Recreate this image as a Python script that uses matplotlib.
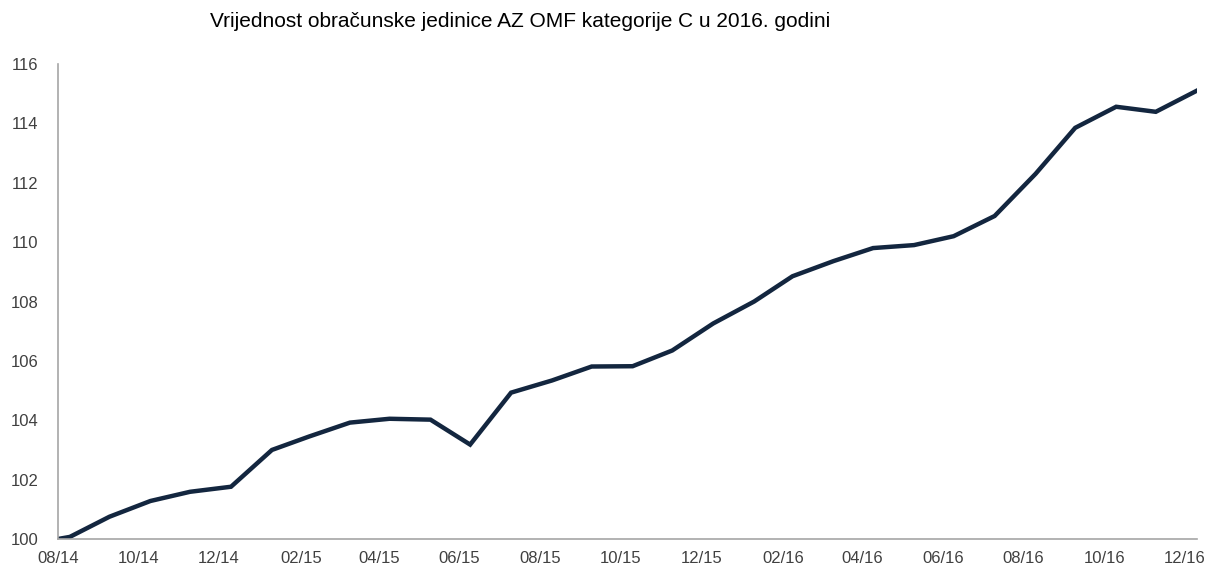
import pandas as pd
import numpy as np
import matplotlib.pyplot as plt
import matplotlib.dates as mdates

plt.rcParams['font.family'] = ['Liberation Sans', 'DejaVu Sans']

# datumi: početak + kraj svakog mjeseca
start_date = '2014-08-22'
month_ends = pd.date_range('2014-08-31', '2016-12-31', freq='ME')
dates = [pd.Timestamp(start_date)] + list(month_ends)

values = [100.00, 100.07, 100.75, 101.28, 101.59, 101.76,
          103.00, 103.45, 103.92, 104.05, 104.02, 103.18,
          104.93, 105.34, 105.81, 105.82, 106.35, 107.26,
          108.00, 108.85, 109.36, 109.80, 109.90, 110.20,
          110.88, 112.30, 113.85, 114.56, 114.39, 115.10]

tick_dates = pd.date_range(start_date, periods=15, freq=pd.DateOffset(months=2))
y_ticks = [100, 102, 104, 106, 108, 110, 112, 114, 116]

title = 'Vrijednost obračunske jedinice AZ OMF kategorije C u 2016. godini'

fig = plt.figure(figsize=(12.07, 5.70), dpi=100)
ax = fig.add_axes([0.048, 0.0544, 0.9435, 0.8333])

ax.plot(dates, values, color='#13263f', linewidth=3.2, solid_joinstyle='miter')

ax.set_xlim(dates[0], dates[-1])
ax.set_ylim(100, 116)
ax.set_yticks(y_ticks)
ax.set_xticks(tick_dates)
ax.xaxis.set_major_formatter(mdates.DateFormatter('%m/%y'))

ax.tick_params(axis='both', length=0, labelsize=12, labelcolor='#404040')
ax.tick_params(axis='y', pad=14)
ax.tick_params(axis='x', pad=9)

for side in ['top', 'right']:
    ax.spines[side].set_visible(False)
for side in ['left', 'bottom']:
    ax.spines[side].set_color('#a6a6a6')
    ax.spines[side].set_linewidth(1.2)

fig.text(0.431, 0.962, title, ha='center', va='center', fontsize=15, color='#000000')

plt.savefig('out.png', dpi=100)
